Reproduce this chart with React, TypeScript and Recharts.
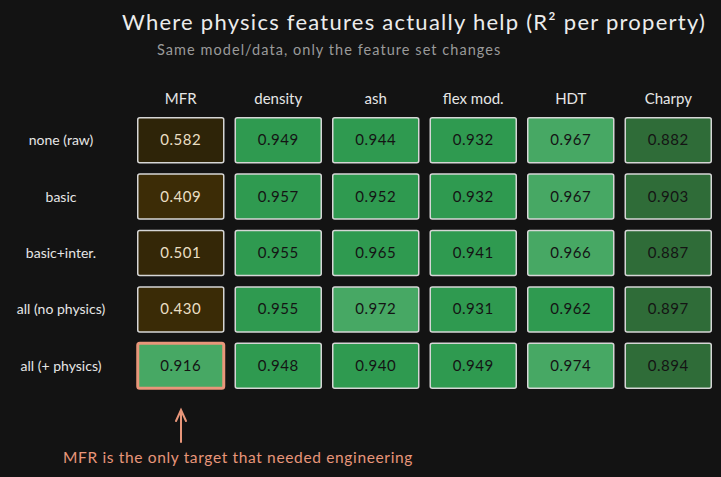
import React from "react";
import { ScatterChart, Scatter, XAxis, YAxis } from "recharts";

const featureSets = ["none (raw)", "basic", "basic+inter.", "all (no physics)", "all (+ physics)"];
const targets = ["MFR", "density", "ash", "flex mod.", "HDT", "Charpy"];

// R² per target, one array per feature set
const noneRaw = [0.582, 0.949, 0.944, 0.932, 0.967, 0.882];
const basic = [0.409, 0.957, 0.952, 0.932, 0.967, 0.903];
const basicInter = [0.501, 0.955, 0.965, 0.941, 0.966, 0.887];
const allNoPhysics = [0.43, 0.955, 0.972, 0.931, 0.962, 0.897];
const allPhysics = [0.916, 0.948, 0.94, 0.949, 0.974, 0.894];

const scores = [noneRaw, basic, basicInter, allNoPhysics, allPhysics];
const highlight = { row: "all (+ physics)", col: "MFR" };

const cells = featureSets.flatMap((row, i) =>
  targets.map((col, j) => ({ row, col, r2: scores[i][j] }))
);

const FONT = "Lato, 'Open Sans', sans-serif";
const BG = "#131313";
const ACCENT = "#e8967a";

function cellColor(v: number, isHighlight: boolean) {
  if (v < 0.7) {
    // brown shades: lower score -> warmer brown
    const t = Math.max(0, Math.min(1, (v - 0.4) / 0.2));
    const r = Math.round(61 - t * 17);
    const g = Math.round(44 - t * 9);
    const b = Math.round(6 + t * 2);
    return `rgb(${r},${g},${b})`;
  }
  if (isHighlight || v >= 0.966) return "#47a864";
  if (v < 0.91) return "#2f6c38";
  return "#2f9a50";
}

const CELL_W = 86;
const CELL_H = 45;

function HeatCell(props: any) {
  const { cx, cy, payload } = props;
  if (cx == null || cy == null) return null;
  const isHi = payload.row === highlight.row && payload.col === highlight.col;
  const fill = cellColor(payload.r2, isHi);
  const dark = payload.r2 < 0.7;
  return (
    <g>
      <rect
        x={cx - CELL_W / 2}
        y={cy - CELL_H / 2}
        width={CELL_W}
        height={CELL_H}
        rx={2}
        fill={fill}
        stroke={isHi ? ACCENT : "#d6d6d6"}
        strokeWidth={isHi ? 3 : 1.5}
      />
      <text
        x={cx}
        y={cy}
        dy={5}
        textAnchor="middle"
        fontFamily={FONT}
        fontSize={15}
        letterSpacing={0.5}
        fill={dark ? "#eadfc4" : "#141414"}
      >
        {payload.r2.toFixed(3)}
      </text>
    </g>
  );
}

const ColTick = (props: any) => {
  const { x, y, payload } = props;
  return (
    <text x={x} y={y - 8} textAnchor="middle" fontFamily={FONT} fontSize={15} fill="#e6e6e6">
      {payload.value}
    </text>
  );
};

const RowTick = (props: any) => {
  const { x, y, payload } = props;
  return (
    <text x={x - 71} y={y} dy={5} textAnchor="middle" fontFamily={FONT} fontSize={14} fill="#e6e6e6">
      {payload.value}
    </text>
  );
};

export default function App() {
  return (
    <div style={{ position: "absolute", left: 0, top: 0, width: 721, height: 477, background: BG }}>
      <ScatterChart width={721} height={477} margin={{ top: 82, right: 4, bottom: 83, left: 0 }}>
        <XAxis
          type="category"
          dataKey="col"
          orientation="top"
          allowDuplicatedCategory={false}
          height={30}
          axisLine={false}
          tickLine={false}
          tickSize={0}
          tickMargin={0}
          tick={<ColTick />}
        />
        <YAxis
          type="category"
          dataKey="row"
          allowDuplicatedCategory={false}
          reversed
          width={132}
          axisLine={false}
          tickLine={false}
          tickSize={0}
          tickMargin={0}
          tick={<RowTick />}
        />
        <Scatter data={cells} shape={<HeatCell />} isAnimationActive={false} />
      </ScatterChart>
      <svg width={721} height={477} style={{ position: "absolute", left: 0, top: 0, pointerEvents: "none" }}>
        <text x={122} y={30} fontFamily={FONT} fontSize={22} letterSpacing={1.25} fill="#ececec">
          Where physics features actually help (R² per property)
        </text>
        <text x={157} y={55} fontFamily={FONT} fontSize={14.5} letterSpacing={1.05} fill="#9a9a9a">
          Same model/data, only the feature set changes
        </text>
        <g stroke={ACCENT} strokeWidth={2} strokeLinecap="round" fill="none">
          <line x1={181} y1={442} x2={181} y2={411} />
          <polyline points="176,421 181,410 186,421" />
        </g>
        <text x={63} y={463} fontFamily={FONT} fontSize={15.5} letterSpacing={0.65} fill={ACCENT}>
          MFR is the only target that needed engineering
        </text>
      </svg>
    </div>
  );
}
